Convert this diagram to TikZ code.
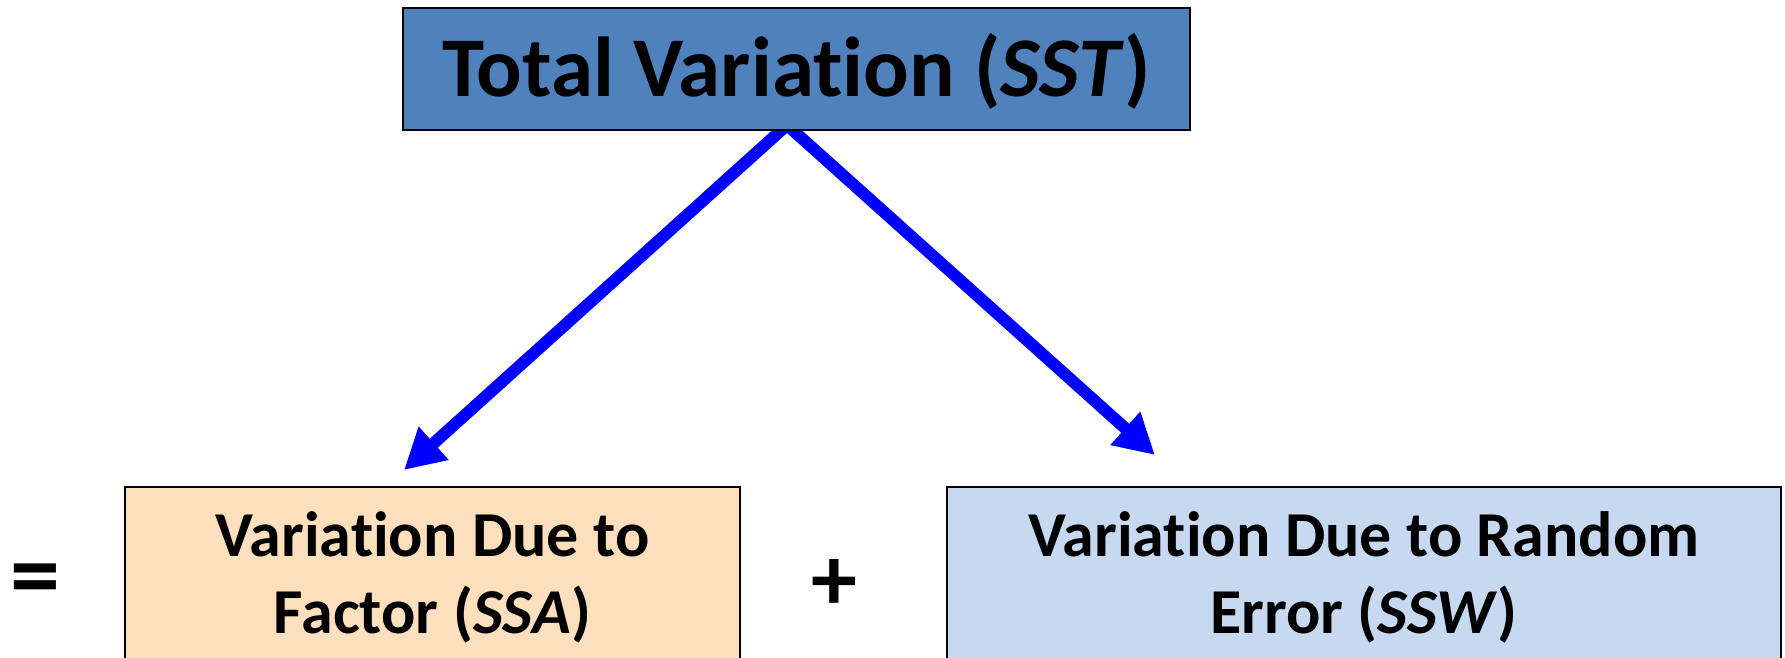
\documentclass[tikz,border=0pt]{standalone}
\usepackage{fontspec}
\setmainfont{Carlito}[Ligatures=CommonOff]
\usetikzlibrary{arrows.meta,backgrounds}

\definecolor{sstblue}{HTML}{4F81BD}
\definecolor{ssapeach}{HTML}{FCE0BE}
\definecolor{sswblue}{HTML}{C6D9F1}

\tikzset{
    sumbox/.style={draw=black, line width=2pt, inner sep=0pt, align=center,
        font=\bfseries\fontsize{64}{77}\selectfont},
    flow/.style={draw=blue, line width=12pt,
        -{Triangle[length=40pt, width=42pt]}},
    sign/.style={font=\bfseries\fontsize{100}{100}\selectfont, inner sep=0pt}
}

\begin{document}
\begin{tikzpicture}[x=1pt, y=1pt]
    \useasboundingbox (0,0) rectangle (1785,657);
    \clip (0,0) rectangle (1785,657);

    \node[sumbox, fill=sstblue, minimum width=787pt, minimum height=122pt,
          font=\bfseries\fontsize{85}{90}\selectfont] (sst) at (796.5,588)
          {\raisebox{-28pt}[0pt][0pt]{Total Variation (\textit{SST})}};

    \node[sumbox, fill=ssapeach, minimum width=615pt, minimum height=180pt,
          anchor=north] (ssa) at (432.5,171)
          {Variation Due to\\Factor (\textit{SSA})};
    \node[sumbox, fill=sswblue, minimum width=834pt, minimum height=180pt,
          anchor=north] (ssw) at (1364,171)
          {Variation Due to Random\\Error (\textit{SSW})};

    \node[sign] (eq) at (35,71) {=};
    \node[sign, font=\bfseries\fontsize{92}{92}\selectfont] (plus) at (834,72) {+};

    % arrow ends
    \coordinate (sst-out) at (787,532);
    \coordinate (ssa-in) at (404,187);
    \coordinate (ssw-in) at (1155,202);

    \begin{scope}[on background layer]
        \draw[flow] (sst-out) -- (ssa-in);
        \draw[flow] (sst-out) -- (ssw-in);
    \end{scope}
\end{tikzpicture}
\end{document}
